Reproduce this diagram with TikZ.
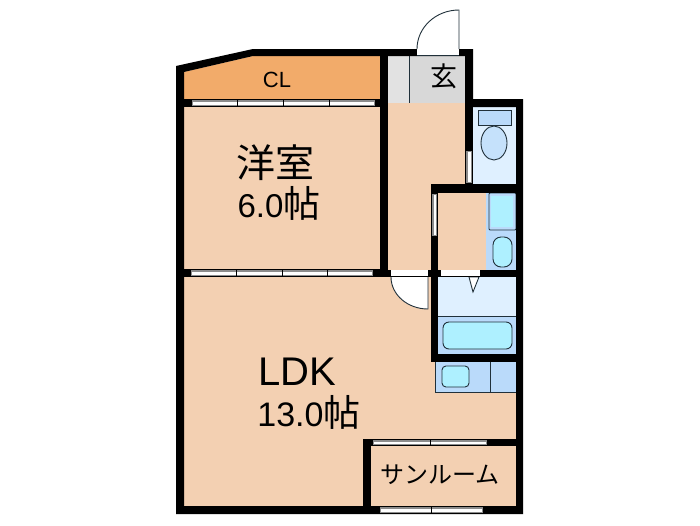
\documentclass[tikz,border=0pt]{standalone}
\usepackage{fontspec}
\setmainfont{Liberation Sans}
\newfontfamily\jpfont{Noto Sans CJK JP}
\definecolor{floorc}{HTML}{F3D0B2}
\definecolor{closetc}{HTML}{F2AB6A}
\definecolor{hallc}{HTML}{D8D8D8}
\definecolor{hallb}{HTML}{E2E2E2}
\definecolor{palec}{HTML}{DFF0FF}
\definecolor{bluec}{HTML}{BADAFA}
\definecolor{cyanc}{HTML}{AEF0FF}
\definecolor{linec}{HTML}{20303A}
\definecolor{sashc}{HTML}{8C8C8C}
\tikzset{
    wall/.style = {fill=black},
    fixture/.style = {draw=linec, line width=0.9pt, fill=cyanc, rounded corners=4pt},
    sash/.style = {fill=sashc},
    pane/.style = {fill=white},
    leaf/.style = {draw=linec, line width=0.9pt, fill=white},
    label/.style = {inner sep=0pt, text=black}
}
\begin{document}
\begin{tikzpicture}[x=1pt, y=-1pt]
    \useasboundingbox (0,0) rectangle (700,525);

    % floor
    \fill[floorc] (184,72) -- (253,56) -- (465,56) -- (465,190) -- (516,190) -- (516,506) -- (184,506) -- cycle;
    \fill[closetc] (184,72) -- (253,56) -- (380,56) -- (380,99) -- (184,99) -- cycle;
    \fill[hallb] (388,56) rectangle (409,103);
    \fill[hallc] (409,56) rectangle (465,103);
    \draw[linec, line width=0.7pt] (409,56) -- (409,103);

    % toilet
    \fill[palec] (473,107) rectangle (516,184);
    \draw[fixture, fill=bluec, rounded corners=0pt] (478,110) rectangle (511,125);
    \draw[fixture, fill=bluec!70!palec, rounded corners=0pt] (494,143) ellipse (13 and 17);

    % washroom
    \fill[bluec] (486,193) rectangle (516,270);
    \draw[fixture, fill=bluec, rounded corners=1pt] (489,193) rectangle (516,230);
    \fill[cyanc] (491,196) rectangle (513,227);
    \draw[fixture, rounded corners=8pt] (493,237) rectangle (512,267);

    % bath
    \fill[palec] (438,277) rectangle (516,316);
    \fill[bluec] (438,316) rectangle (516,354);
    \draw[linec, line width=0.7pt] (438,316) -- (516,316);
    \draw[fixture, rounded corners=6pt] (443,322) rectangle (512,349);
    \draw[leaf] (469,277) -- (479,277) -- (473,292) -- cycle;

    % kitchen
    \fill[bluec] (435,362) rectangle (516,392);
    \draw[linec, line width=0.7pt] (435,362) -- (435,392) -- (516,392);
    \draw[linec, line width=0.9pt] (490,362) -- (490,392);
    \draw[fixture] (442,366) rectangle (469,387);

    % walls
    \fill[wall, even odd rule] (176,66) -- (253,49) -- (473,49) -- (473,99) -- (523,99) -- (523,514) -- (176,514) -- cycle
        (184,72) -- (184,506) -- (516,506) -- (516,107) -- (465,107) -- (465,56) -- (253,56) -- cycle;
    \fill[wall] (176,99) rectangle (388,107);
    \fill[wall] (380,49) rectangle (388,277);
    \fill[wall] (176,269) rectangle (388,277);
    \fill[wall] (465,99) rectangle (473,190);
    \fill[wall] (431,184) rectangle (523,193);
    \fill[wall] (431,184) rectangle (438,362);
    \fill[wall] (388,269.5) rectangle (523,277);
    \fill[wall] (431,354) rectangle (523,362);
    \fill[wall] (363,439) rectangle (523,446);
    \fill[wall] (363,439) rectangle (371,506);

    % sliding windows
    \foreach \xa/\xb/\ya/\yb in {192/375/100/106, 191/373/270/276} {
        \fill[sash] (\xa,\ya) rectangle (\xb,\yb);
        \fill[pane] (\xa+1,\ya+1.5) rectangle (\xb-1,\yb-1.5);
        \foreach \k in {1,2,3}
            \draw[black, line width=0.8pt] ({\xa+(\xb-\xa)*\k/4},\ya) -- ({\xa+(\xb-\xa)*\k/4},\yb);
    }
    \foreach \xa/\xb/\ya/\yb in {373/487/440/445, 380/483/507/513} {
        \fill[sash] (\xa,\ya) rectangle (\xb,\yb);
        \fill[pane] (\xa+1,\ya+1.5) rectangle (\xb-1,\yb-1.5);
        \draw[black, line width=0.8pt] ({(\xa+\xb)/2},\ya) -- ({(\xa+\xb)/2},\yb);
    }
    \fill[sash] (466,151) rectangle (472,183);
    \fill[pane] (467.5,152) rectangle (470.5,182);
    \fill[sash] (432,194) rectangle (437,236);
    \fill[pane] (433.5,195) rectangle (435.5,235);

    % doors
    \fill[white] (417,49) rectangle (459,55);
    \draw[linec, line width=0.7pt] (417,55) -- (459,55);
    \draw[leaf] (417,49) arc (180:270:42 and 39) -- (459,49);
    \fill[white] (391,270) rectangle (428,276);
    \draw[leaf] (391,277) arc (180:90:37 and 32) -- (428,277);
    \fill[white] (441,270) rectangle (480,276);

    % labels
    \node[label] (cl) at (277,80) {\fontsize{22}{22}\selectfont CL};
    \node[label] (genkan) at (444,76) {\fontsize{27}{27}\selectfont\jpfont 玄};
    \node[label] (yoshitsu) at (275,163) {\fontsize{39}{39}\selectfont\jpfont 洋室};
    \node[label] (yoarea) at (279,203) {\fontsize{33}{33}\selectfont 6.0{\fontsize{37}{37}\selectfont\jpfont 帖}};
    \node[label] (ldk) at (297,372) {\fontsize{40}{40}\selectfont LDK};
    \node[label] (ldkarea) at (309,412) {\fontsize{34}{34}\selectfont 13.0{\fontsize{37}{37}\selectfont\jpfont 帖}};
    \node[label] (sunroom) at (440,475) {\fontsize{24}{24}\selectfont\jpfont サンルーム};
\end{tikzpicture}
\end{document}
